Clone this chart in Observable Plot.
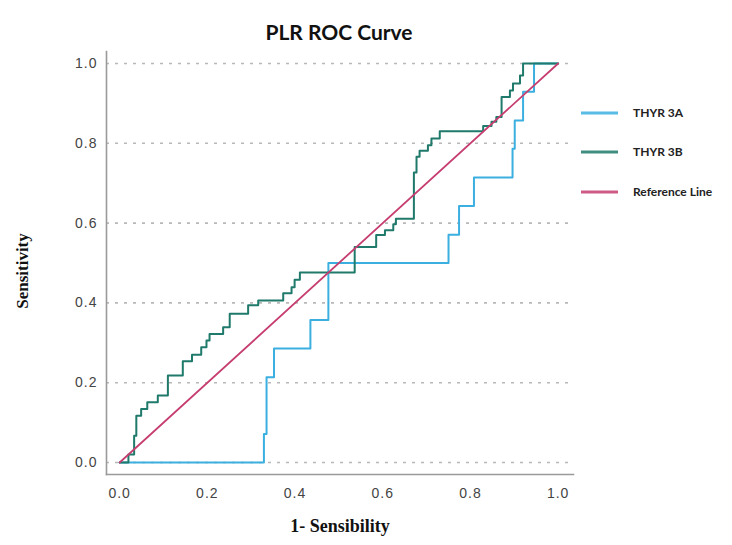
<!DOCTYPE html>
<html>
<head>
<meta charset="utf-8">
<script src="https://cdn.jsdelivr.net/npm/d3@7"></script>
<script src="https://cdn.jsdelivr.net/npm/@observablehq/plot@0.6"></script>
<style>
  html, body { margin: 0; padding: 0; background: #fff; }
  #chart { width: 732px; height: 545px; }
</style>
</head>
<body>
<div id="chart"></div>
<script>
// ---- data ----
const chartTitle = "PLR ROC Curve";
const xTitle = "1- Sensibility";
const yTitle = "Sensitivity";
const seriesNames = ["THYR 3A", "THYR 3B", "Reference Line"];
const seriesColors = ["#3BB0E0", "#1F7A6B", "#C63E70"];
const xTicks = [0, 0.2, 0.4, 0.6, 0.8, 1.0];
const yTicks = [0, 0.2, 0.4, 0.6, 0.8, 1.0];

// step corners (1 - specificity, sensitivity), drawn with step-after
const fpr3A = [0, 0.329, 0.335, 0.352, 0.435, 0.476, 0.750, 0.774, 0.808, 0.896, 0.901, 0.920, 0.945, 1.0];
const tpr3A = [0, 0.0714, 0.214, 0.286, 0.357, 0.500, 0.571, 0.643, 0.714, 0.786, 0.857, 0.929, 1.0, 1.0];

const fpr3B = [0, 0.020, 0.033, 0.038, 0.049, 0.063, 0.087, 0.110, 0.144, 0.165,
               0.186, 0.198, 0.205, 0.236, 0.251, 0.293, 0.316, 0.373, 0.392, 0.399,
               0.411, 0.536, 0.585, 0.605, 0.624, 0.630, 0.671, 0.677, 0.684, 0.703,
               0.711, 0.730, 0.829, 0.848, 0.859, 0.871, 0.890, 0.897, 0.913, 0.920, 1.0];
const tpr3B = [0, 0.020, 0.067, 0.117, 0.134, 0.151, 0.168, 0.218, 0.254, 0.270,
               0.289, 0.306, 0.322, 0.339, 0.373, 0.394, 0.406, 0.424, 0.439, 0.458,
               0.476, 0.540, 0.570, 0.582, 0.597, 0.611, 0.727, 0.766, 0.781, 0.795,
               0.812, 0.830, 0.843, 0.854, 0.866, 0.916, 0.932, 0.950, 0.970, 1.0, 1.0];

const refX = [0, 1];
const refY = [0, 1];

// ---- build tables ----
const rows3A = fpr3A.map((x, i) => ({x, y: tpr3A[i]}));
const rows3B = fpr3B.map((x, i) => ({x, y: tpr3B[i]}));
const rowsRef = refX.map((x, i) => ({x, y: refY[i]}));

const W = 732, H = 545;
const tickFont = "Liberation Sans, Arial, sans-serif";

const chart = Plot.plot({
  width: W,
  height: H,
  marginLeft: 106,
  marginRight: 159,
  marginTop: 51,
  marginBottom: 71,
  style: {background: "#fff", fontFamily: tickFont},
  x: {domain: [-0.03, 1.035], label: null},
  y: {domain: [-0.03, 1.03], label: null},
  marks: [
    Plot.ruleY(yTicks, {stroke: "#b8b8b8", strokeWidth: 1.6, strokeDasharray: "3,6"}),
    Plot.frame({anchor: "left", stroke: "#9a9a9a", strokeWidth: 1.6}),
    Plot.frame({anchor: "bottom", stroke: "#9a9a9a", strokeWidth: 1.6}),
    Plot.axisX({ticks: xTicks, tickFormat: d3.format(".1f"), tickSize: 0, tickPadding: 14,
                fontSize: 14, fill: "#444", label: null}),
    Plot.axisY({ticks: yTicks, tickFormat: d3.format(".1f"), tickSize: 0, tickPadding: 9,
                fontSize: 14, fill: "#444", label: null}),
    Plot.line(rows3A, {x: "x", y: "y", curve: "step-after", stroke: seriesColors[0], strokeWidth: 2}),
    Plot.line(rows3B, {x: "x", y: "y", curve: "step-after", stroke: seriesColors[1], strokeWidth: 2}),
    Plot.line(rowsRef, {x: "x", y: "y", stroke: seriesColors[2], strokeWidth: 1.8})
  ]
});

document.getElementById("chart").appendChild(chart);

const svg = d3.select(chart);
svg.selectAll("g[aria-label='x-axis tick label'] text, g[aria-label='y-axis tick label'] text")
   .style("letter-spacing", "1px");

// title
svg.append("text")
  .attr("x", 339).attr("y", 40)
  .attr("text-anchor", "middle")
  .style("font-family", "Lato, 'Open Sans', sans-serif")
  .style("font-weight", "bold")
  .style("font-size", "21px")
  .style("fill", "#111")
  .text(chartTitle);

// axis titles
svg.append("text")
  .attr("x", 340).attr("y", 532)
  .attr("text-anchor", "middle")
  .style("font-family", "'Liberation Serif', 'DejaVu Serif', serif")
  .style("font-weight", "bold")
  .style("font-size", "18px")
  .style("fill", "#111")
  .text(xTitle);

svg.append("text")
  .attr("transform", "translate(28,271) rotate(-90)")
  .attr("text-anchor", "middle")
  .style("font-family", "'Liberation Serif', 'DejaVu Serif', serif")
  .style("font-weight", "bold")
  .style("font-size", "17px")
  .style("fill", "#111")
  .text(yTitle);

// legend
const legendY = [113, 152, 192];
const lg = svg.append("g");
seriesNames.forEach((name, i) => {
  lg.append("line")
    .attr("x1", 581).attr("x2", 618)
    .attr("y1", legendY[i]).attr("y2", legendY[i])
    .attr("stroke", seriesColors[i])
    .attr("stroke-opacity", 0.85)
    .attr("stroke-width", 3);
  lg.append("text")
    .attr("x", 633).attr("y", legendY[i])
    .attr("dy", "0.35em")
    .attr("text-anchor", "start")
    .style("font-family", "Lato, 'Open Sans', sans-serif")
    .style("font-weight", "bold")
    .style("font-size", "12px")
    .style("fill", "#222")
    .text(name);
});
</script>
</body>
</html>
